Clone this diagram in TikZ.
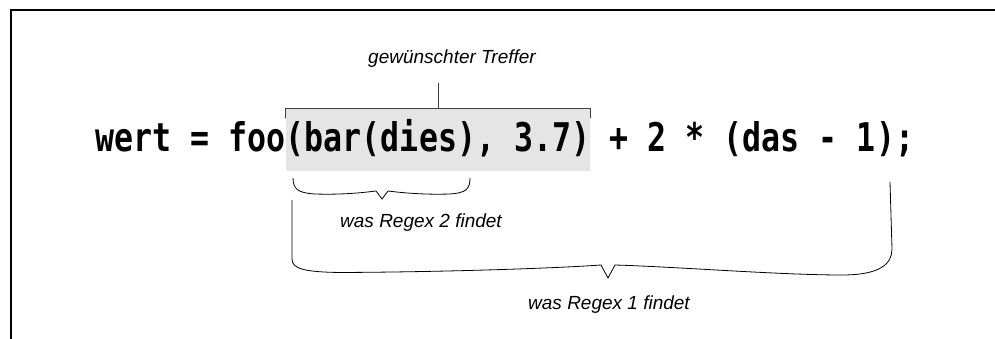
\documentclass[tikz,border=0pt]{standalone}
\usepackage{fontspec}
\usepackage{tikz}
\usetikzlibrary{positioning, calc}
\newfontfamily\codefont{DejaVu Sans Mono}[FakeStretch=0.8]
\newfontfamily\notefont{Liberation Sans}
\definecolor{HitGray}{gray}{0.9}

\begin{document}
\begin{tikzpicture}[x=1pt, y=1pt,
    code/.style={inner sep=0pt, anchor=base west, font=\codefont\bfseries\fontsize{39.5}{44}\selectfont},
    hitbox/.style={fill=HitGray, text height=43pt, text depth=19pt},
    note/.style={font=\notefont\itshape\fontsize{19}{22}\selectfont, inner sep=0pt},
    tickline/.style={black!75, line width=0.8pt},
    curly/.style={black, line width=0.8pt}]
        \useasboundingbox (0,0) rectangle (995,339);
        % Frame
        \draw[line width=2.2pt] (11,0) -- (11,329) -- (995,329);

        % Code line
        \node[code] (pre) at (95,187) {wert = foo};
        \node[code, hitbox] (hit) at (pre.base east) {(bar(dies), 3.7)};
        \node[code] (post) at (hit.base east) {~+ 2 * (das - 1);};

        % Wanted match
        \draw[tickline] ([yshift=-9pt]hit.north west) -- (hit.north west) -- (hit.north east) -- ([yshift=-9pt]hit.north east);
        \node[note, anchor=base, inner ysep=15pt] (want) at (452,275) {gewünschter Treffer};
        \draw[tickline] (hit.north) -- (hit.north |- want.south);

        % Regex 2 brace
        \draw[curly] (293,161) .. controls (293,150) and (298,146) .. (315,145)
            .. controls (345,144) and (368,147) .. (376,148) -- (382,140) -- (388,148)
            .. controls (396,147) and (420,144) .. (450,145)
            .. controls (466,146) and (470,150) .. (470,161);
        \node[note] (re2) at (421,116) {was Regex 2 findet};

        % Regex 1 brace
        \draw[curly] (292,139) -- (292,80) .. controls (292,70) and (305,67) .. (340,66.5)
            .. controls (450,67) and (560,71) .. (601,74) -- (608,61) -- (615,74)
            .. controls (680,72) and (780,64) .. (842,64)
            .. controls (880,64) and (892,75) .. (892,90) -- (890,157);
        \node[note] (re1) at (609,34) {was Regex 1 findet};
    \end{tikzpicture}
\end{document}
